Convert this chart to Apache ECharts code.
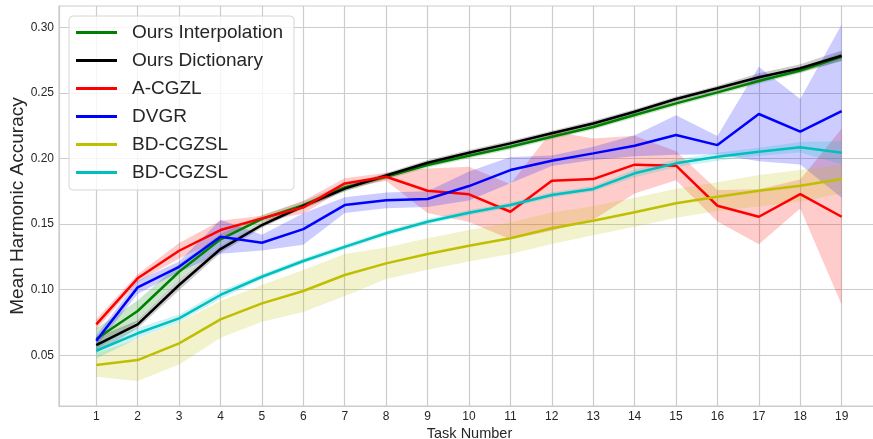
<!DOCTYPE html>
<html lang="en">
<head>
    <meta charset="UTF-8">
    <title>Mean Harmonic Accuracy</title>
    <style>
        html,body{
            margin: 0px;
            padding: 0px;
            background: #fff;
        }
        #chart{
            width: 873px;
            height: 439px;
        }
    </style>
    <script src="https://cdn.jsdelivr.net/npm/echarts@6.0.0/dist/echarts.min.js"></script>
</head>
<body>
<div id="chart"></div>
<script>

    var tasks = [1, 2, 3, 4, 5, 6, 7, 8, 9, 10, 11, 12, 13, 14, 15, 16, 17, 18, 19];
    var yTicks = [0.05, 0.10, 0.15, 0.20, 0.25, 0.30];

    var names = ['Ours Interpolation', 'Ours Dictionary', 'A-CGZL', 'DVGR', 'BD-CGZSL', 'BD-CGZSL #2'];
    var colors = ['#008000', '#000000', '#ff0000', '#0000ff', '#bfbf00', '#00bfbf'];
    var bandColors = ['rgba(0,128,0,0.2)', 'rgba(0,0,0,0.2)', 'rgba(255,0,0,0.2)',
        'rgba(0,0,255,0.2)', 'rgba(191,191,0,0.2)', 'rgba(0,191,191,0.2)'];

    // mean values
    var interpMean = [0.0624, 0.0838, 0.1137, 0.1384, 0.154, 0.1645, 0.178, 0.186, 0.195, 0.2021,
        0.2089, 0.2166, 0.224, 0.2331, 0.242, 0.2504, 0.259, 0.267, 0.2775];
    var dictMean = [0.0578, 0.0736, 0.1036, 0.131, 0.1493, 0.1638, 0.177, 0.187, 0.1968, 0.2044,
        0.2115, 0.2192, 0.2267, 0.2356, 0.2453, 0.2535, 0.2619, 0.2688, 0.2783];
    var acgzlMean = [0.0736, 0.1087, 0.1297, 0.1455, 0.1544, 0.1628, 0.181, 0.1861, 0.1754, 0.1727,
        0.1594, 0.183, 0.1843, 0.1953, 0.1945, 0.164, 0.1556, 0.1729, 0.1556];
    var dvgrMean = [0.0611, 0.1018, 0.1175, 0.1404, 0.1358, 0.1462, 0.1645, 0.1681, 0.1691, 0.179,
        0.1912, 0.1983, 0.2039, 0.2097, 0.2179, 0.2102, 0.2339, 0.2204, 0.2361];
    var bdMean = [0.0426, 0.0464, 0.0591, 0.0774, 0.0896, 0.099, 0.1112, 0.1201, 0.1272, 0.1335,
        0.1392, 0.1468, 0.1526, 0.159, 0.1659, 0.1709, 0.1755, 0.1793, 0.1843];
    var bd2Mean = [0.0535, 0.0668, 0.0782, 0.096, 0.1099, 0.1219, 0.1327, 0.143, 0.1518, 0.1587,
        0.1645, 0.1722, 0.1768, 0.1887, 0.1963, 0.2013, 0.2051, 0.2085, 0.2044];

    // std (half width of the shaded band)
    var interpStd = [0.008, 0.008, 0.006, 0.004, 0.003, 0.003, 0.003, 0.002, 0.002, 0.002,
        0.002, 0.002, 0.002, 0.002, 0.002, 0.002, 0.002, 0.002, 0.003];
    var dictStd = [0.006, 0.003, 0.004, 0.003, 0.002, 0.002, 0.002, 0.002, 0.002, 0.002,
        0.002, 0.002, 0.002, 0.002, 0.002, 0.002, 0.003, 0.003, 0.004];
    var acgzlStd = [0.004, 0.003, 0.006, 0.007, 0.002, 0.005, 0.004, 0.003, 0.017, 0.021,
        0.021, 0.038, 0.031, 0.022, 0.011, 0.012, 0.021, 0.011, 0.067];
    var dvgrStd = [0.004, 0.005, 0.004, 0.013, 0.006, 0.012, 0.006, 0.006, 0.006, 0.011,
        0.01, 0.004, 0.005, 0.008, 0.015, 0.007, 0.036, 0.025, 0.066];
    var bdStd = [0.009, 0.016, 0.016, 0.014, 0.014, 0.016, 0.016, 0.012, 0.012, 0.012,
        0.012, 0.012, 0.011, 0.011, 0.011, 0.011, 0.012, 0.012, 0.011];
    var bd2Std = [0.006, 0.004, 0.003, 0.003, 0.002, 0.002, 0.002, 0.002, 0.002, 0.002,
        0.002, 0.002, 0.002, 0.003, 0.003, 0.003, 0.003, 0.004, 0.009];

    var means = [interpMean, dictMean, acgzlMean, dvgrMean, bdMean, bd2Mean];
    var stds = [interpStd, dictStd, acgzlStd, dvgrStd, bdStd, bd2Std];

    var font = 'Liberation Sans, Arial, sans-serif';
    var series = [];

    // shaded band (mean +- std) drawn as one polygon through the axis scales
    function bandSeries(i) {
        var m = means[i], s = stds[i];
        var rows = tasks.map(function (t, k) { return [t, m[k] - s[k], m[k] + s[k]]; });
        return {
            name: 'band_' + i,
            type: 'custom',
            silent: true,
            z: 1,
            data: rows,
            encode: {x: 0, y: [1, 2]},
            renderItem: function (params, api) {
                if (params.dataIndex !== 0) return null;
                var pts = [];
                rows.forEach(function (r) { pts.push(api.coord([r[0], r[2]])); });
                for (var k = rows.length - 1; k >= 0; k--) {
                    pts.push(api.coord([rows[k][0], rows[k][1]]));
                }
                return {
                    type: 'polygon',
                    shape: {points: pts},
                    style: {fill: bandColors[i], stroke: null}
                };
            }
        };
    }

    means.forEach(function (m, i) {
        series.push(bandSeries(i));
    });

    means.forEach(function (m, i) {
        series.push({
            name: names[i],
            type: 'line',
            symbol: 'none',
            z: 3 + i,
            color: colors[i],
            lineStyle: {width: 2.5, color: colors[i]},
            data: tasks.map(function (t, k) { return [t, m[k]]; })
        });
    });

    var chart = echarts.init(document.getElementById('chart'));
    var option = {
        animation: false,
        backgroundColor: '#ffffff',
        grid: {
            left: 59,
            right: -2,
            top: 6,
            bottom: 33,
            outerBoundsMode: 'none',
            containLabel: false,
            show: true,
            borderColor: '#cccccc',
            borderWidth: 1.2
        },
        legend: {
            data: names,
            orient: 'vertical',
            left: 69,
            top: 16,
            icon: 'rect',
            itemWidth: 41,
            itemHeight: 3,
            itemGap: 9,
            padding: [7, 11, 8, 7],
            backgroundColor: 'rgba(255,255,255,0.8)',
            borderColor: '#d6d6d6',
            borderWidth: 1,
            borderRadius: 4,
            formatter: function (name) {
                return name.replace(/ #2$/, '');
            },
            textStyle: {
                fontSize: 19,
                color: '#262626',
                fontFamily: font,
                padding: [0, 0, 0, 10]
            }
        },
        xAxis: {
            type: 'value',
            min: 0.1,
            max: 19.805,
            name: 'Task Number',
            nameLocation: 'middle',
            nameGap: 20,
            nameMoveOverlap: false,
            nameTextStyle: {fontSize: 14.5, color: '#262626', fontFamily: font, padding: [0, 0, 0, 5]},
            axisLine: {show: true, lineStyle: {color: '#cccccc', width: 1.2}},
            axisTick: {show: false, customValues: tasks},
            axisLabel: {
                customValues: tasks,
                fontSize: 12,
                color: '#262626',
                fontFamily: font,
                margin: 5,
                formatter: function (v) { return String(v); }
            },
            splitLine: {show: true, lineStyle: {color: '#cccccc', width: 1.2}}
        },
        yAxis: {
            type: 'value',
            min: 0.0114,
            max: 0.3162,
            name: 'Mean Harmonic Accuracy',
            nameLocation: 'middle',
            nameRotate: 90,
            nameGap: 32,
            nameMoveOverlap: false,
            nameTextStyle: {fontSize: 19, color: '#262626', fontFamily: font},
            axisLine: {show: true, lineStyle: {color: '#cccccc', width: 1.2}},
            axisTick: {show: false, customValues: yTicks},
            axisLabel: {
                customValues: yTicks,
                fontSize: 12,
                color: '#262626',
                fontFamily: font,
                margin: 5,
                formatter: function (v) { return v.toFixed(2); }
            },
            splitLine: {show: true, lineStyle: {color: '#cccccc', width: 1.2}}
        },
        series: series
    };

    chart.setOption(option);

</script>
</body>
</html>
